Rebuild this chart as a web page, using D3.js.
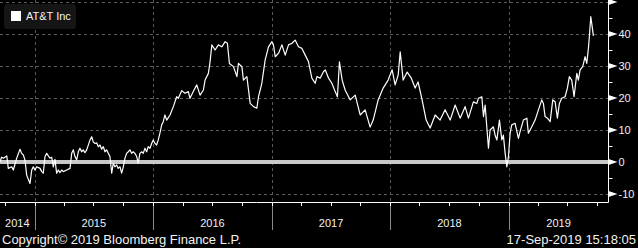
<!DOCTYPE html>
<html>
<head>
<meta charset="utf-8">
<script src="https://cdn.jsdelivr.net/npm/d3@7"></script>
<style>
  body { margin: 0; background: #000; }
  svg { display: block; }
  text { font-family: "Liberation Sans", Arial, sans-serif; fill: #f2f2f2; }
</style>
</head>
<body>
<svg width="638" height="248"></svg>
<script>
// percent change, AT&T Inc
var seriesName = "AT&T Inc";
var times = [
  2014.708, 2014.721, 2014.736, 2014.765, 2014.778, 2014.807, 2014.820, 2014.849, 2014.877, 2014.891,
  2014.905, 2014.919, 2014.933, 2014.961, 2014.976, 2014.989, 2015.003, 2015.018, 2015.046, 2015.060,
  2015.073, 2015.088, 2015.102, 2015.116, 2015.130, 2015.144, 2015.158, 2015.172, 2015.186, 2015.200,
  2015.214, 2015.229, 2015.242, 2015.271, 2015.299, 2015.313, 2015.327, 2015.341, 2015.355, 2015.369,
  2015.383, 2015.397, 2015.411, 2015.425, 2015.440, 2015.468, 2015.482, 2015.495, 2015.510, 2015.524,
  2015.538, 2015.552, 2015.566, 2015.580, 2015.594, 2015.608, 2015.622, 2015.636, 2015.651, 2015.664,
  2015.678, 2015.693, 2015.706, 2015.721, 2015.735, 2015.749, 2015.763, 2015.777, 2015.791, 2015.805,
  2015.819, 2015.833, 2015.847, 2015.862, 2015.875, 2015.889, 2015.904, 2015.917, 2015.932, 2015.946,
  2015.959, 2015.974, 2015.988, 2016.002, 2016.016, 2016.030, 2016.044, 2016.058, 2016.073, 2016.086,
  2016.100, 2016.115, 2016.143, 2016.171, 2016.199, 2016.213, 2016.241, 2016.269, 2016.297, 2016.311,
  2016.339, 2016.368, 2016.396, 2016.424, 2016.438, 2016.466, 2016.480, 2016.495, 2016.522, 2016.550,
  2016.579, 2016.607, 2016.626, 2016.643, 2016.677, 2016.706, 2016.719, 2016.748, 2016.761, 2016.790,
  2016.818, 2016.846, 2016.874, 2016.888, 2016.916, 2016.944, 2016.972, 2017.001, 2017.014, 2017.029,
  2017.057, 2017.085, 2017.113, 2017.141, 2017.170, 2017.197, 2017.225, 2017.254, 2017.282, 2017.310,
  2017.338, 2017.366, 2017.381, 2017.408, 2017.436, 2017.451, 2017.479, 2017.507, 2017.535, 2017.554,
  2017.571, 2017.594, 2017.619, 2017.662, 2017.704, 2017.746, 2017.788, 2017.830, 2017.856, 2017.898,
  2017.940, 2017.982, 2018.016, 2018.041, 2018.067, 2018.084, 2018.109, 2018.143, 2018.176, 2018.210,
  2018.235, 2018.269, 2018.303, 2018.337, 2018.379, 2018.421, 2018.463, 2018.506, 2018.548, 2018.590,
  2018.632, 2018.660, 2018.702, 2018.731, 2018.744, 2018.773, 2018.787, 2018.801, 2018.815, 2018.829,
  2018.843, 2018.871, 2018.885, 2018.900, 2018.922, 2018.942, 2018.955, 2018.970, 2018.984, 2018.998,
  2019.012, 2019.026, 2019.054, 2019.082, 2019.096, 2019.124, 2019.153, 2019.166, 2019.195, 2019.223,
  2019.251, 2019.279, 2019.293, 2019.307, 2019.327, 2019.350, 2019.372, 2019.392, 2019.411, 2019.428,
  2019.448, 2019.476, 2019.495, 2019.512, 2019.532, 2019.552, 2019.575, 2019.588, 2019.603, 2019.625,
  2019.645, 2019.659, 2019.673, 2019.681, 2019.693, 2019.701, 2019.715
];
var values = [
  0.0, 1.5, 1.2, 1.9, -2.0, -1.5, -2.5, 1.2, 4.0, 2.7,
  2.2, 0.6, -4.1, -6.7, -2.5, -1.5, -2.5, -1.5, -2.0, -3.0,
  -3.5, 1.7, 2.7, 1.9, 1.2, 1.5, -1.5, 0.8, -3.5, -2.5,
  -3.3, -2.5, -3.0, -2.5, -2.0, 2.7, 3.8, 1.7, 0.6, 3.2,
  4.3, 3.2, 3.8, 2.9, 3.8, 6.9, 7.9, 6.3, 5.8, 6.0,
  4.8, 5.3, 4.0, 4.8, 3.2, 3.8, 2.7, 1.7, -3.5, -0.4,
  -1.5, -0.9, -2.0, -1.5, -3.5, -1.5, 1.2, 2.7, 3.2, 3.8,
  2.7, 3.2, 2.7, 1.7, -0.4, 2.7, 3.2, 2.7, 4.3, 3.2,
  4.8, 4.3, 5.8, 6.9, 5.8, 5.3, 6.9, 9.0, 11.6, 12.6,
  14.7, 13.1, 14.7, 17.3, 20.4, 19.9, 22.3, 21.5, 22.0, 19.9,
  22.0, 24.1, 20.9, 22.5, 25.6, 27.7, 31.3, 36.6, 35.0, 36.6,
  36.0, 37.6, 37.1, 30.8, 29.8, 26.7, 30.8, 29.8, 25.6, 26.7,
  18.3, 17.3, 16.8, 20.4, 24.6, 31.9, 36.0, 37.6, 36.6, 32.9,
  34.0, 36.6, 33.4, 36.6, 37.1, 38.1, 36.0, 35.5, 33.4, 31.3,
  26.2, 24.6, 26.7, 26.2, 28.2, 28.8, 26.2, 24.6, 22.0, 20.4,
  31.3, 25.6, 22.5, 19.4, 20.9, 14.7, 16.3, 10.9, 13.1, 19.4,
  23.1, 25.6, 28.8, 24.1, 27.2, 34.4, 25.6, 28.1, 26.3, 23.1,
  25.0, 19.4, 13.1, 10.6, 14.7, 13.1, 16.3, 13.1, 17.8, 13.7,
  17.3, 13.7, 18.8, 18.3, 19.9, 20.4, 14.2, 17.8, 11.0, 4.3,
  10.0, 11.0, 8.4, 6.9, 13.1, 6.9, 8.4, 2.7, -1.5, 1.7,
  9.0, 11.6, 12.1, 7.4, 9.5, 13.1, 13.7, 9.0, 11.0, 13.1,
  16.3, 19.4, 18.3, 14.2, 13.7, 12.6, 19.4, 18.8, 13.7, 18.3,
  19.9, 20.4, 23.0, 26.7, 25.6, 20.4, 27.7, 25.6, 28.8, 29.8,
  32.9, 30.8, 35.5, 39.2, 45.4, 43.3, 39.4
];
var yTicks = [-10, 0, 10, 20, 30, 40, 50];
var yMinor = [-5, 5, 15, 25, 35, 45];
var years = [2014, 2015, 2016, 2017, 2018, 2019];
var copyright = "Copyright\u00a9 2019 Bloomberg Finance L.P.";
var stamp = "17-Sep-2019 15:18:05";

var svg = d3.select("svg"),
    plotW = 608.5,
    plotH = 202;

function decYear(t) {
  var yr = Math.floor(t),
      a = new Date(yr, 0, 1),
      b = new Date(yr + 1, 0, 1);
  return new Date(+a + (t - yr) * (b - a));
}

var data = times.map(function(t, i) { return {date: decYear(t), value: values[i]}; });

var x = d3.scaleTime()
    .domain([new Date(2015, 0, 1), new Date(2019, 0, 1)])
    .range([34.6, 508.7]);

var y = d3.scaleLinear()
    .domain([0, 40])
    .range([162, 34]);

svg.append("rect")
    .attr("width", 638).attr("height", 248)
    .attr("fill", "#000");

// grid
svg.append("g").selectAll("line")
  .data(yTicks.filter(function(d) { return d != 0; }))
  .enter().append("line")
    .attr("x1", 0).attr("x2", plotW)
    .attr("y1", function(d) { return Math.round(y(d)) + 0.5; })
    .attr("y2", function(d) { return Math.round(y(d)) + 0.5; })
    .attr("stroke", "#5a5a5a")
    .attr("stroke-dasharray", "3,3");

var yearStarts = years.slice(1).map(function(d) { return new Date(d, 0, 1); });

svg.append("g").selectAll("line")
  .data(yearStarts)
  .enter().append("line")
    .attr("x1", function(d) { return Math.round(x(d)) + 0.5; })
    .attr("x2", function(d) { return Math.round(x(d)) + 0.5; })
    .attr("y1", 0).attr("y2", plotH)
    .attr("stroke", "#5a5a5a")
    .attr("stroke-dasharray", "3,3");

// year separators under the axis
svg.append("g").selectAll("line")
  .data(yearStarts)
  .enter().append("line")
    .attr("x1", function(d) { return Math.round(x(d)) + 0.5; })
    .attr("x2", function(d) { return Math.round(x(d)) + 0.5; })
    .attr("y1", plotH).attr("y2", 230)
    .attr("stroke", "#8a8a8a");

// zero line
svg.append("line")
    .attr("x1", 0).attr("x2", plotW)
    .attr("y1", y(0)).attr("y2", y(0))
    .attr("stroke", "#c8c8c8")
    .attr("stroke-width", 4);

var line = d3.line()
    .x(function(d) { return x(d.date); })
    .y(function(d) { return y(d.value); });

svg.append("path")
    .datum(data)
    .attr("fill", "none")
    .attr("stroke", "#fff")
    .attr("stroke-width", 1.2)
    .attr("stroke-linejoin", "round")
    .attr("d", line);

// axes frame
svg.append("line")
    .attr("x1", plotW).attr("x2", plotW)
    .attr("y1", 0).attr("y2", plotH + 0.5)
    .attr("stroke", "#fff");
svg.append("line")
    .attr("x1", 0).attr("x2", plotW)
    .attr("y1", plotH + 0.5).attr("y2", plotH + 0.5)
    .attr("stroke", "#fff");

// right axis ticks: little arrows + labels
var yt = svg.append("g").selectAll("g")
  .data(yTicks)
  .enter().append("g")
    .attr("transform", function(d) { return "translate(" + plotW + "," + y(d) + ")"; });

yt.append("path")
    .attr("d", "M0,-3L0,3L9,0Z")
    .attr("fill", "#fff");

yt.filter(function(d) { return d < 50; })
  .append("text")
    .attr("x", 10)
    .attr("dy", "0.36em")
    .style("font-size", "11px")
    .text(function(d) { return d; });

svg.append("g").selectAll("line")
  .data(yMinor)
  .enter().append("line")
    .attr("x1", plotW).attr("x2", plotW + 4)
    .attr("y1", function(d) { return Math.round(y(d)) + 0.5; })
    .attr("y2", function(d) { return Math.round(y(d)) + 0.5; })
    .attr("stroke", "#fff");

// bottom quarter ticks
var quarters = d3.timeMonth.every(3).range(x.invert(0), x.invert(plotW));
svg.append("g").selectAll("line")
  .data(quarters)
  .enter().append("line")
    .attr("x1", function(d) { return Math.round(x(d)) + 0.5; })
    .attr("x2", function(d) { return Math.round(x(d)) + 0.5; })
    .attr("y1", plotH).attr("y2", plotH + 4)
    .attr("stroke", "#fff");

// year labels, centred in the visible part of each year
svg.append("g").selectAll("text")
  .data(years)
  .enter().append("text")
    .attr("x", function(d) {
      var a = Math.max(0, x(new Date(d, 0, 1))),
          b = Math.min(plotW, x(new Date(d + 1, 0, 1)));
      return (a + b) / 2;
    })
    .attr("y", 227)
    .attr("text-anchor", "middle")
    .style("font-size", "11px")
    .text(function(d) { return d; });

// legend
var legend = svg.append("g");
legend.append("rect")
    .attr("x", 4).attr("y", 4)
    .attr("width", 72).attr("height", 25)
    .attr("rx", 3)
    .attr("fill", "#151515");
legend.append("rect")
    .attr("x", 11).attr("y", 11)
    .attr("width", 10).attr("height", 10)
    .attr("fill", "#fff");
legend.append("text")
    .attr("x", 26).attr("y", 20)
    .style("font-size", "11px")
    .text(seriesName);

// footer
svg.append("text")
    .attr("x", 2).attr("y", 244)
    .style("font-size", "13px")
    .text(copyright);
svg.append("text")
    .attr("x", 636).attr("y", 244)
    .attr("text-anchor", "end")
    .style("font-size", "13px")
    .text(stamp);
</script>
</body>
</html>
